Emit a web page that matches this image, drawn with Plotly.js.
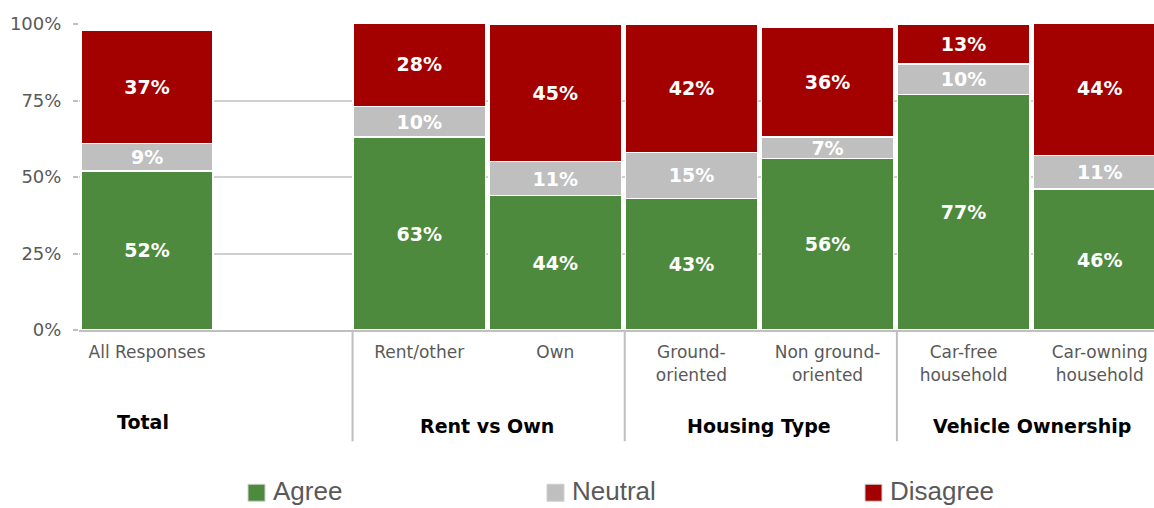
<!DOCTYPE html>
<html>
<head>
<meta charset="utf-8">
<script src="https://cdn.plot.ly/plotly-3.0.1.min.js"></script>
<style>html,body{margin:0;padding:0;background:#fff;}#chart{width:1154px;height:508px;}</style>
</head>
<body>
<div id="chart"></div>
<script>
// ---- data ----
const categories = ['All Responses', 'Rent/other', 'Own', 'Ground-<br>oriented', 'Non ground-<br>oriented', 'Car-free<br>household', 'Car-owning<br>household'];
const agree    = [52, 63, 44, 43, 56, 77, 46];
const neutral  = [9, 10, 11, 15, 7, 10, 11];
const disagree = [37, 28, 45, 42, 36, 13, 44];
const seriesNames = ['Agree', 'Neutral', 'Disagree'];
const seriesColors = ['#4E8A3E', '#BFBFBF', '#A30000'];
const groupLabels = ['Total', 'Rent vs Own', 'Housing Type', 'Vehicle Ownership'];
const yTickVals = [0, 25, 50, 75, 100];

// ---- layout helpers ----
const W = 1154, H = 508;
const M = {l: 79, r: 0, t: 24, b: 177.5};
const plotW = W - M.l - M.r, plotH = H - M.t - M.b;
const pxX = px => (px - M.l) / plotW;          // pixel -> paper x
const pxY = py => (H - M.b - py) / plotH;      // pixel -> paper y

// slot positions: first category, then an empty slot, then the rest
const xPos = categories.map((c, i) => i === 0 ? 0 : i + 1);

const labelFont = {family: 'DejaVu Sans', size: 19, color: '#ffffff', weight: 'bold'};
const series = [agree, neutral, disagree];

const traces = series.map((vals, k) => ({
  type: 'bar',
  name: seriesNames[k],
  x: xPos,
  y: vals,
  width: 0.972,
  marker: {color: seriesColors[k], line: {color: '#ffffff', width: 1.5}},
  text: vals.map(v => v + '%'),
  texttemplate: '%{text}',
  textposition: 'inside',
  insidetextanchor: 'middle',
  constraintext: 'none',
  textfont: labelFont,
  hoverinfo: 'skip',
  showlegend: false,
  cliponaxis: true
}));

// group separators and group label positions
const sepX = [1.5, 3.5, 5.5];
const groupX = [-0.03, 2.5, 4.5, 6.5];
const groupPxY = [423, 427, 427, 427];

const shapes = sepX.map(x => ({
  type: 'line', xref: 'x', yref: 'paper',
  x0: x + 0.01, x1: x + 0.01, y0: 0, y1: pxY(442),
  line: {color: '#BFBFBF', width: 2}
}));

const annotations = groupLabels.map((t, i) => ({
  text: t, xref: 'x', yref: 'paper', x: groupX[i], y: pxY(groupPxY[i]),
  showarrow: false, xanchor: 'center', yanchor: 'middle',
  font: {family: 'DejaVu Sans', size: 19, color: '#000000', weight: 'bold'}
}));

// legend (key boxes + labels)
const keyLeft = [248, 547, 865];
const keySize = 17;
const keyMidY = 493.5;
const textMidY = 492;
const legendFont = {family: 'Liberation Sans', size: 26, color: '#595959'};
seriesNames.forEach((name, k) => {
  shapes.push({
    type: 'rect', xref: 'paper', yref: 'paper',
    x0: pxX(keyLeft[k]), x1: pxX(keyLeft[k] + keySize),
    y0: pxY(keyMidY + keySize / 2), y1: pxY(keyMidY - keySize / 2),
    fillcolor: seriesColors[k], line: {color: '#D0D0D0', width: 1}
  });
  annotations.push({
    text: name, xref: 'paper', yref: 'paper',
    x: pxX(keyLeft[k] + keySize + 7), y: pxY(textMidY),
    xanchor: 'left', yanchor: 'middle', showarrow: false,
    borderpad: 0,
    font: legendFont
  });
});

const layout = {
  width: W, height: H,
  margin: M,
  paper_bgcolor: '#ffffff', plot_bgcolor: '#ffffff',
  barmode: 'stack',
  showlegend: false,
  xaxis: {
    range: [-0.5, 7.399],
    tickvals: xPos, ticktext: categories,
    showgrid: false, zeroline: false,
    showline: true, linecolor: '#BFBFBF', linewidth: 2,
    ticks: '', ticklabelstandoff: 6,
    tickfont: {family: 'DejaVu Sans', size: 17, color: '#595959'},
    fixedrange: true
  },
  yaxis: {
    range: [0, 100],
    tickvals: yTickVals, ticktext: yTickVals.map(v => v + '%'),
    showgrid: true, gridcolor: '#D0D0D0', gridwidth: 2,
    zeroline: false, showline: false,
    ticks: 'outside', ticklen: 5, tickcolor: '#BFBFBF', tickwidth: 2,
    ticklabelstandoff: 8,
    tickfont: {family: 'DejaVu Sans', size: 18, color: '#595959'},
    fixedrange: true
  },
  shapes: shapes,
  annotations: annotations
};

Plotly.newPlot('chart', traces, layout, {displayModeBar: false, staticPlot: true});
</script>
</body>
</html>
